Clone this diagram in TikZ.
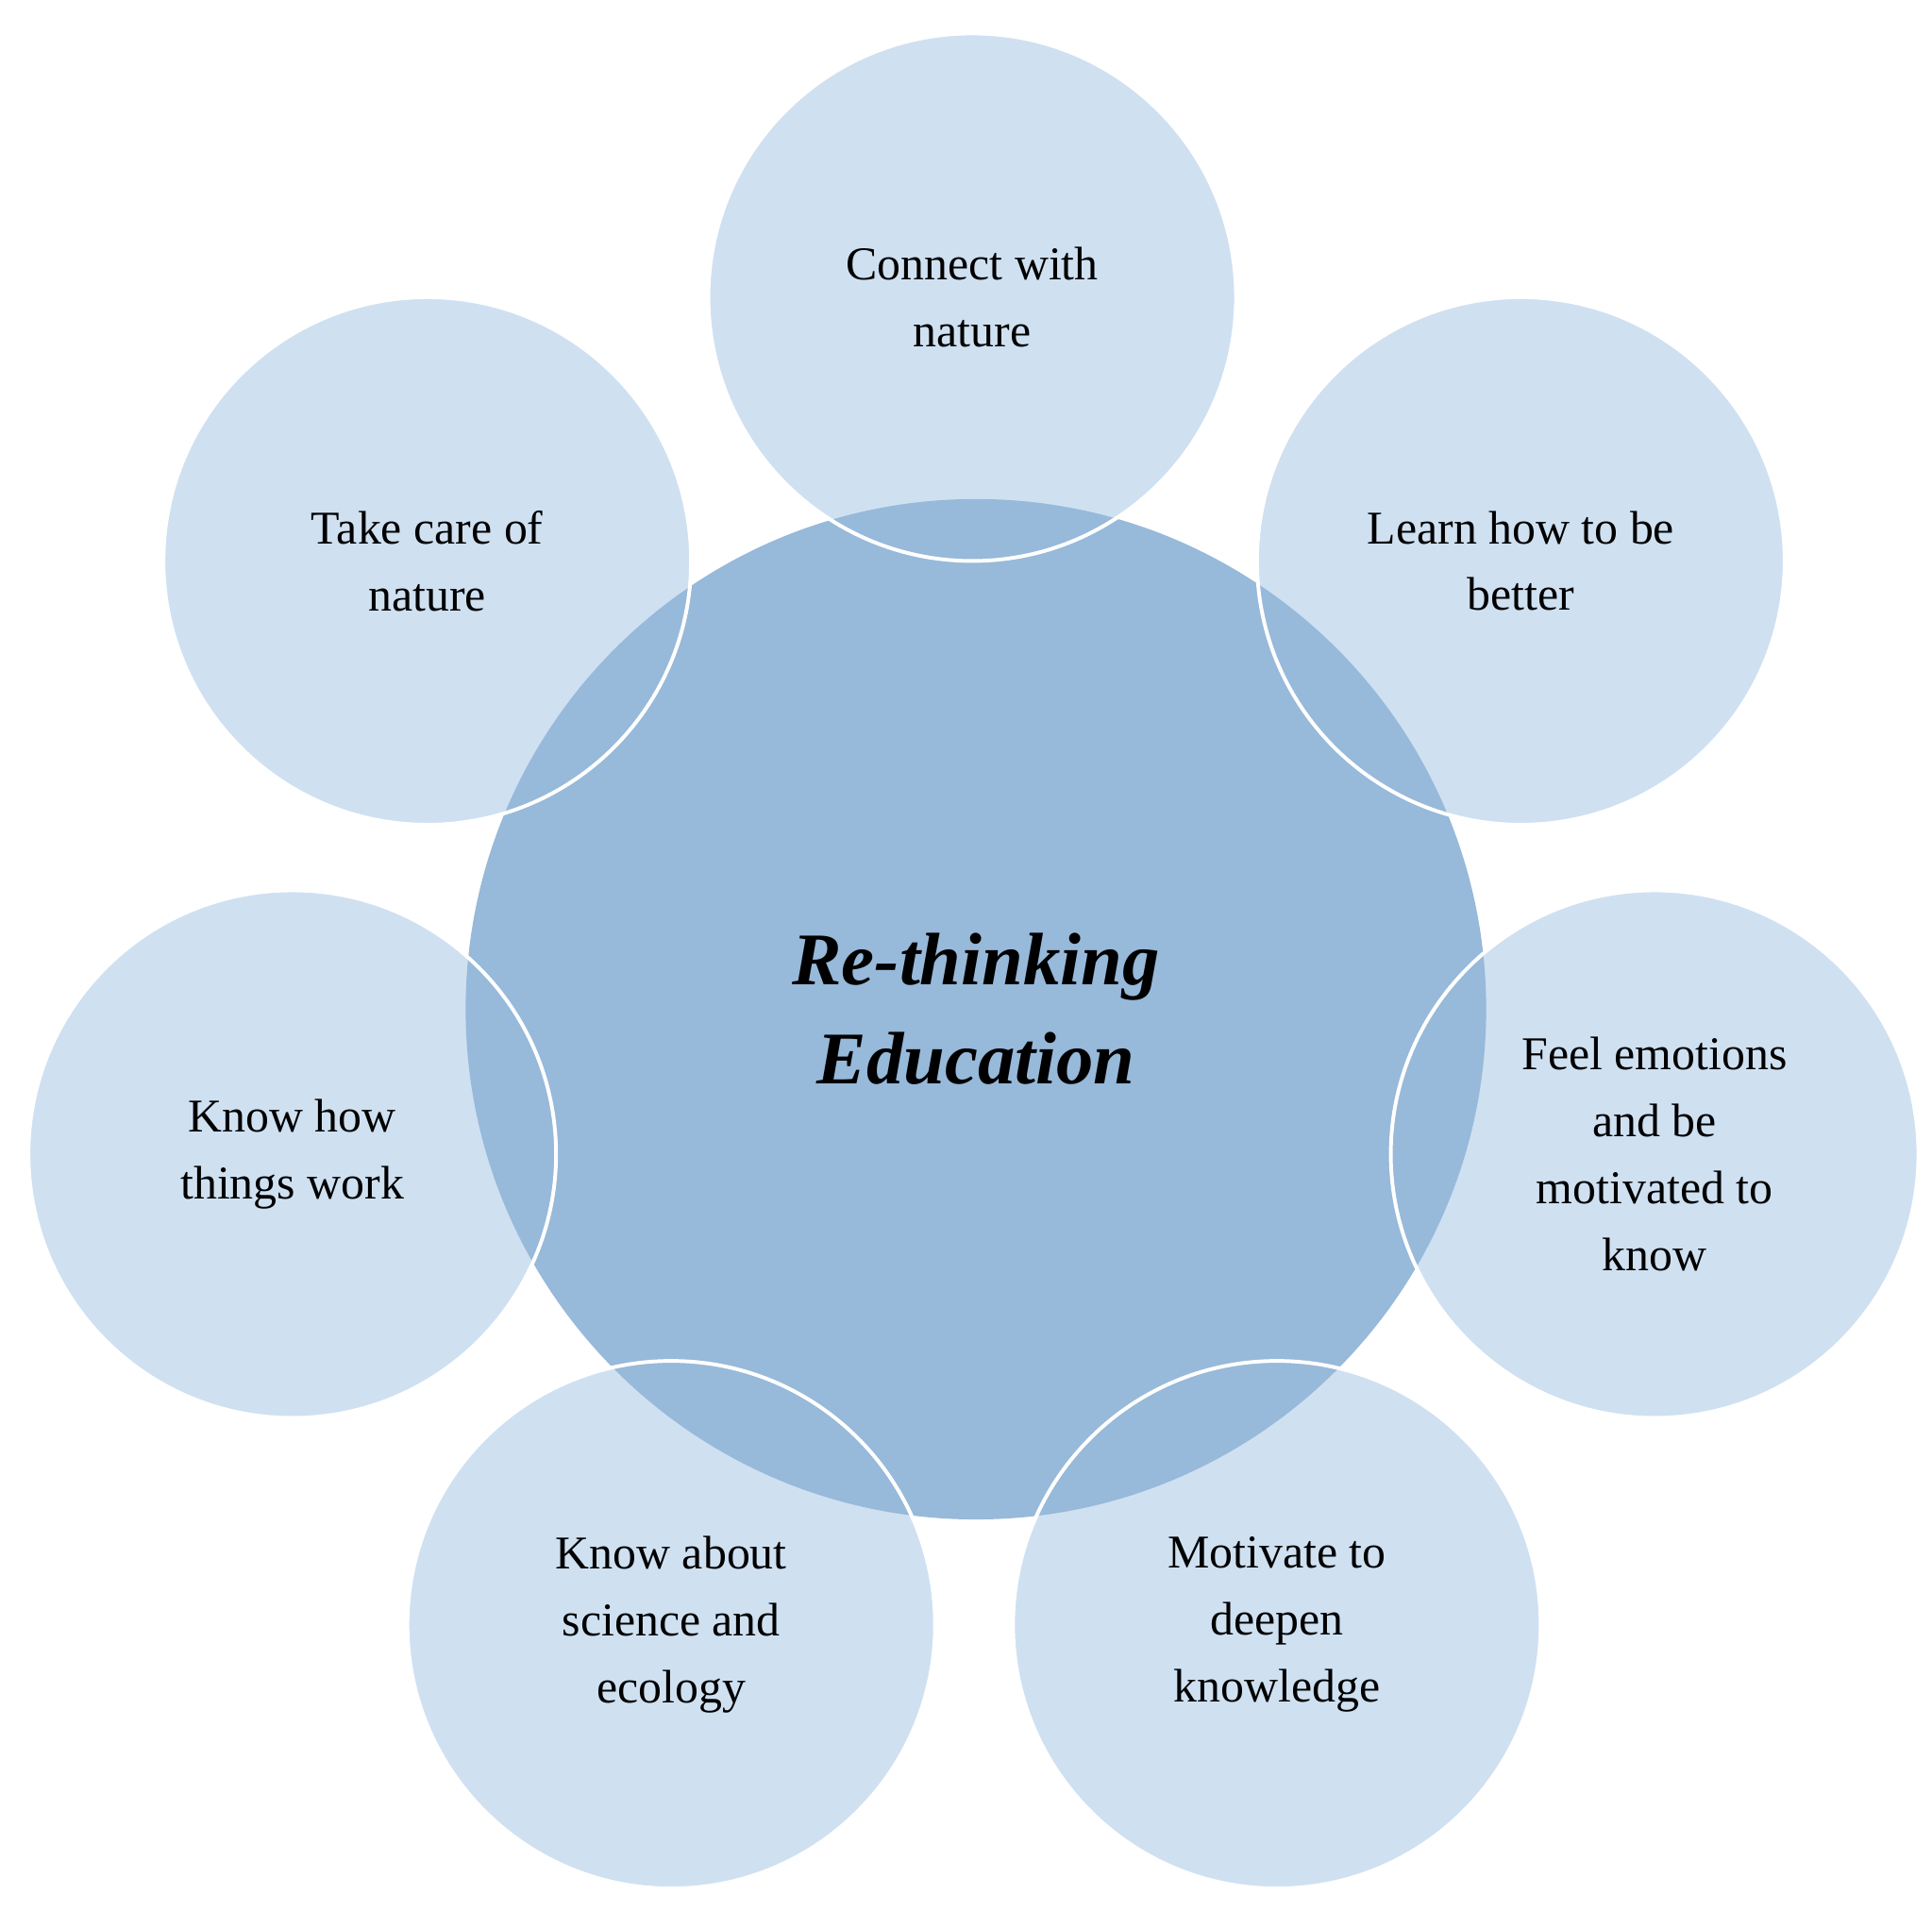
\documentclass[tikz,border=0pt]{standalone}
\usepackage{fontspec}
\setmainfont{Liberation Serif}
\begin{document}
\begin{tikzpicture}[x=1pt,y=-1pt,
  sat/.style={circle,minimum size=426pt,inner sep=0pt,fill=satfill,align=center,font=\fontsize{38}{54}\selectfont},
  ring/.style={draw=white,line width=3pt}]
\definecolor{satfill}{HTML}{CFE0F1}
\definecolor{cenfill}{HTML}{97B9DA}
\useasboundingbox (0,0) rectangle (1560,1543);
\fill[white] (0,0) rectangle (1560,1543);
\node[sat] (s1) at (785,240) {Connect with\\nature};
\node[sat] (s2) at (345,453) {Take care of\\nature};
\node[sat] (s3) at (1228,453) {Learn how to be\\better};
\node[sat] (s4) at (236,932) {Know how\\things work};
\node[sat] (s5) at (1336,932) {Feel emotions\\and be\\motivated to\\know};
\node[sat] (s6) at (542,1312) {Know about\\science and\\ecology};
\node[sat] (s7) at (1031,1312) {Motivate to\\deepen\\knowledge};
\fill[cenfill] (788,815) circle (412);
\foreach \n in {s1,s2,s3,s4,s5,s6,s7} {\draw[ring] (\n.center) circle (213);}
\node[align=center,font=\fontsize{60}{80}\selectfont\bfseries\itshape] (c) at (788,815) {Re-thinking\\Education};
\end{tikzpicture}
\end{document}
